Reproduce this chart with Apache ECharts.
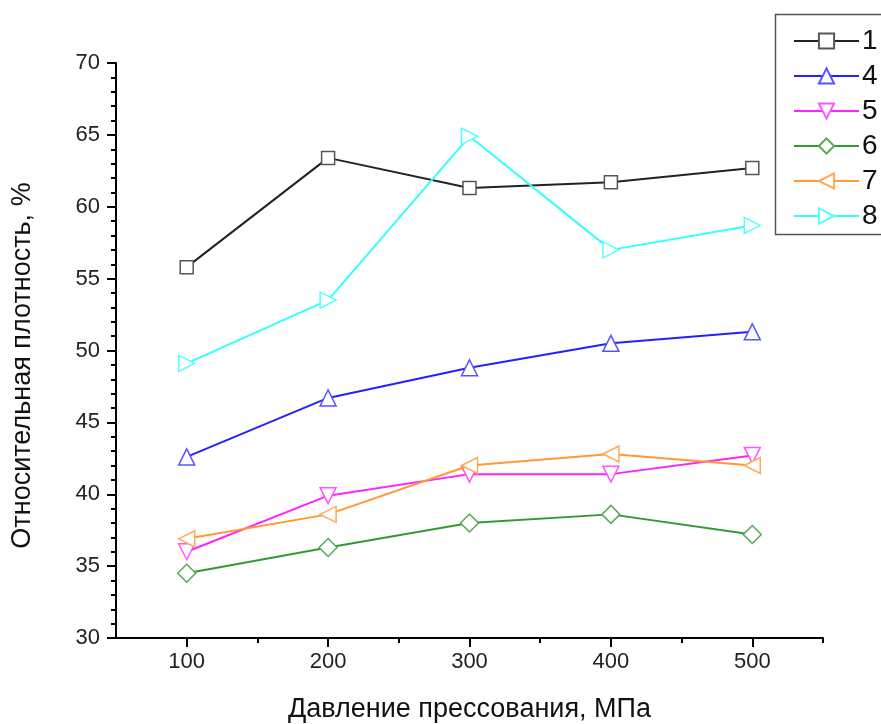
<!DOCTYPE html>
<html><head><meta charset="utf-8">
<script src="https://cdn.jsdelivr.net/npm/echarts@6/dist/echarts.min.js"></script>
<style>html,body{margin:0;padding:0;background:#fff}#c{width:881px;height:724px}</style>
</head><body><div id="c"></div>
<script>
const pressures = [100, 200, 300, 400, 500];
const seriesNames = ['1', '4', '5', '6', '7', '8'];
const s1 = [55.8, 63.4, 61.3, 61.7, 62.7];
const s4 = [42.6, 46.7, 48.8, 50.5, 51.3];
const s5 = [36.0, 39.9, 41.4, 41.4, 42.7];
const s6 = [34.5, 36.3, 38.0, 38.6, 37.2];
const s7 = [36.9, 38.6, 42.0, 42.8, 42.0];
const s8 = [49.1, 53.5, 64.9, 57.0, 58.7];
const xMajorTicks = [100, 200, 300, 400, 500];
const xMinorTicks = [150, 250, 350, 450, 550];

const font = '"Liberation Sans", Arial, sans-serif';
const styles = [
  {color: '#222222', mark: '#555555', symbol: 'rect', rot: 0, size: 13},
  {color: '#2222ff', mark: '#5555ff', symbol: 'triangle', rot: 0, size: 16},
  {color: '#ff22ff', mark: '#ff55ff', symbol: 'triangle', rot: 180, size: 16},
  {color: '#339933', mark: '#55aa55', symbol: 'diamond', rot: 0, size: 18},
  {color: '#ff9933', mark: '#ffaa55', symbol: 'triangle', rot: 90, size: 16},
  {color: '#33ffff', mark: '#55ffff', symbol: 'triangle', rot: -90, size: 16}
];
const data = [s1, s4, s5, s6, s7, s8];

const chart = echarts.init(document.getElementById('c'), null, {renderer: 'canvas'});
chart.setOption({
  animation: false,
  backgroundColor: '#fff',
  textStyle: {fontFamily: font},
  grid: {left: 116, right: 58, top: 63, bottom: 86, containLabel: false, outerBoundsMode: 'none'},
  graphic: [{
    type: 'rect', left: 773, top: 12, z: 10,
    shape: {width: 120, height: 220},
    style: {fill: 'none', stroke: '#555', lineWidth: 1.5}
  }],
  legend: {
    orient: 'vertical', left: 793, top: 27, z: 11,
    itemWidth: 65, itemHeight: 19, itemGap: 7, padding: 0,
    textStyle: {fontFamily: font, fontSize: 28, color: '#111', padding: [0, 0, 0, -2]},
    data: seriesNames
  },
  xAxis: [{
    type: 'value', min: 50, max: 550, interval: 50,
    axisLine: {show: true, onZero: false, lineStyle: {color: '#000', width: 2}},
    axisTick: {show: true, length: 9, customValues: xMajorTicks, lineStyle: {color: '#000', width: 2}},
    axisLabel: {customValues: xMajorTicks, fontSize: 22, color: '#222', margin: 13, fontFamily: font},
    splitLine: {show: false},
    name: 'Давление прессования, МПа', nameLocation: 'middle', nameGap: 58,
    nameTextStyle: {fontSize: 27, color: '#111', fontFamily: font}
  }, {
    type: 'value', min: 50, max: 550, interval: 50, position: 'bottom',
    axisLine: {show: false},
    axisTick: {show: true, length: 5, customValues: xMinorTicks, lineStyle: {color: '#000', width: 2}},
    axisLabel: {show: false},
    splitLine: {show: false}
  }],
  yAxis: {
    type: 'value', min: 30, max: 70, interval: 5,
    axisLine: {show: true, lineStyle: {color: '#000', width: 2}},
    axisTick: {show: true, length: 9, lineStyle: {color: '#000', width: 2}},
    minorTick: {show: true, splitNumber: 5, length: 5, lineStyle: {color: '#000', width: 2}},
    axisLabel: {fontSize: 22, color: '#222', margin: 16, fontFamily: font},
    splitLine: {show: false},
    name: 'Относительная плотность, %', nameLocation: 'middle', nameGap: 80,
    nameTextStyle: {fontSize: 27, color: '#111', fontFamily: font, padding: [0, 30, 0, 0]}
  },
  series: seriesNames.map((n, i) => ({
    name: n, type: 'line', xAxisIndex: 0,
    data: pressures.map((p, j) => [p, data[i][j]]),
    symbol: styles[i].symbol, symbolSize: styles[i].size, symbolRotate: styles[i].rot,
    showAllSymbol: true,
    lineStyle: {color: styles[i].color, width: 2},
    itemStyle: {color: '#ffffff', borderColor: styles[i].mark, borderWidth: 1.5},
    color: styles[i].color,
    z: 2 + i
  }))
});
</script></body></html>
